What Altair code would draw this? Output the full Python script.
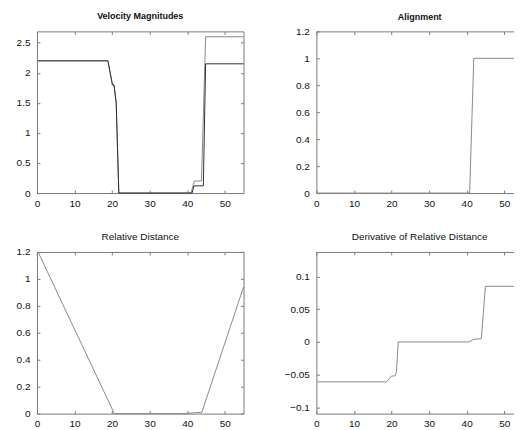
import altair as alt
import pandas as pd

# ---------------- data ----------------
# Velocity Magnitudes (two agents)
vel1_t = [0.3, 18.9, 20.1, 20.5, 21.1, 21.8, 41.0, 41.9, 43.8, 44.9, 55.0]
vel1_v = [2.2, 2.2, 1.8, 1.8, 1.5, 0.0, 0.0, 0.2, 0.2, 2.6, 2.6]
vel2_t = [0.3, 18.9, 20.1, 20.5, 21.1, 21.8, 41.3, 41.8, 44.3, 44.9, 55.0]
vel2_v = [2.2, 2.2, 1.8, 1.8, 1.5, 0.0, 0.0, 0.12, 0.12, 2.15, 2.15]

# Alignment
align_t = [0.3, 40.8, 41.9, 55.0]
align_v = [0.0, 0.0, 1.0, 1.0]

# Relative Distance
dist_t = [0.3, 20.6, 39.0, 43.9, 55.0]
dist_v = [1.2, 0.0, 0.0, 0.01, 0.94]

# Derivative of Relative Distance
deriv_t = [0.3, 18.7, 20.0, 20.9, 21.3, 21.8, 40.5, 41.9, 43.9, 45.0, 55.0]
deriv_v = [-0.061, -0.061, -0.052, -0.052, -0.046, 0.0, 0.0, 0.004, 0.005, 0.085, 0.085]

x_ticks = [0, 10, 20, 30, 40, 50]
vel_ticks = [0, 0.5, 1, 1.5, 2, 2.5]
unit_ticks = [0, 0.2, 0.4, 0.6, 0.8, 1, 1.2]
deriv_ticks = [-0.1, -0.05, 0, 0.05, 0.1]

FONT = "Liberation Sans"
FRAME = "#7a7a7a"
W, H = 207, 162


def make_df(t, v, series="a"):
    return pd.DataFrame({"t": t, "v": v, "s": [series] * len(t)})


def panel(df, title, ydom, yticks, weight, tsize, tdy, colors=("#2a2a2a",), right_ticks=True):
    xs = alt.Scale(domain=[0, 55], nice=False, zero=False)
    ys = alt.Scale(domain=ydom, nice=False, zero=False)
    common = dict(domain=False, grid=False, ticks=True, tickSize=3, offset=-3,
                  tickColor=FRAME, tickWidth=1, title=None)
    lab = dict(labelFont=FONT, labelFontSize=10, labelColor="#111",
               labelFlush=False, labelOverlap=False, labelBound=False, format="~r")
    main = alt.Chart(df).mark_line(strokeWidth=1).encode(
        x=alt.X("t:Q", scale=xs, axis=alt.Axis(values=x_ticks, orient="bottom",
                                                labelPadding=5, **common, **lab)),
        y=alt.Y("v:Q", scale=ys, axis=alt.Axis(values=yticks, orient="left",
                                                labelPadding=7, **common, **lab)),
        color=alt.Color("s:N", scale=alt.Scale(range=list(colors)), legend=None),
    )
    yghost = alt.Axis(values=yticks, orient="right", labels=False, **common) if right_ticks else None
    ghost = alt.Chart(df).mark_line(opacity=0).encode(
        x=alt.X("t:Q", scale=xs, axis=alt.Axis(values=x_ticks, orient="top",
                                                labels=False, **common)),
        y=alt.Y("v:Q", scale=ys, axis=yghost),
    )
    return alt.layer(main, ghost).resolve_axis(x="independent", y="independent").properties(
        width=W, height=H,
        title=alt.TitleParams(title, font=FONT, fontSize=tsize, fontWeight=weight,
                              color="#111", offset=9, baseline="alphabetic",
                              anchor="middle", frame="group", dy=tdy),
    )


vel_df = pd.concat([make_df(vel1_t, vel1_v, "a"), make_df(vel2_t, vel2_v, "b")])
p1 = panel(vel_df, "Velocity Magnitudes", [0, 2.69], vel_ticks, "bold", 9, 6.5,
           colors=("#8a8a8a", "#303030"))
p2 = panel(make_df(align_t, align_v), "Alignment", [0, 1.2], unit_ticks, "bold", 9, 11.5,
           right_ticks=False)
p3 = panel(make_df(dist_t, dist_v), "Relative Distance", [0, 1.2], unit_ticks, "normal", 10, 12)
p4 = panel(make_df(deriv_t, deriv_v), "Derivative of Relative Distance",
           [-0.1095, 0.1375], deriv_ticks, "normal", 10, 7.5, right_ticks=False)

chart = alt.concat(
    p1, p2, p3, p4, columns=2,
    spacing=alt.RowColnumber(column=73, row=59), bounds="flush",
).properties(
    padding={"left": 7, "top": 3, "right": -12, "bottom": 0}
).configure_view(stroke=FRAME, strokeWidth=1)

chart.save("out.html", embed_options={"renderer": "svg", "actions": False})
